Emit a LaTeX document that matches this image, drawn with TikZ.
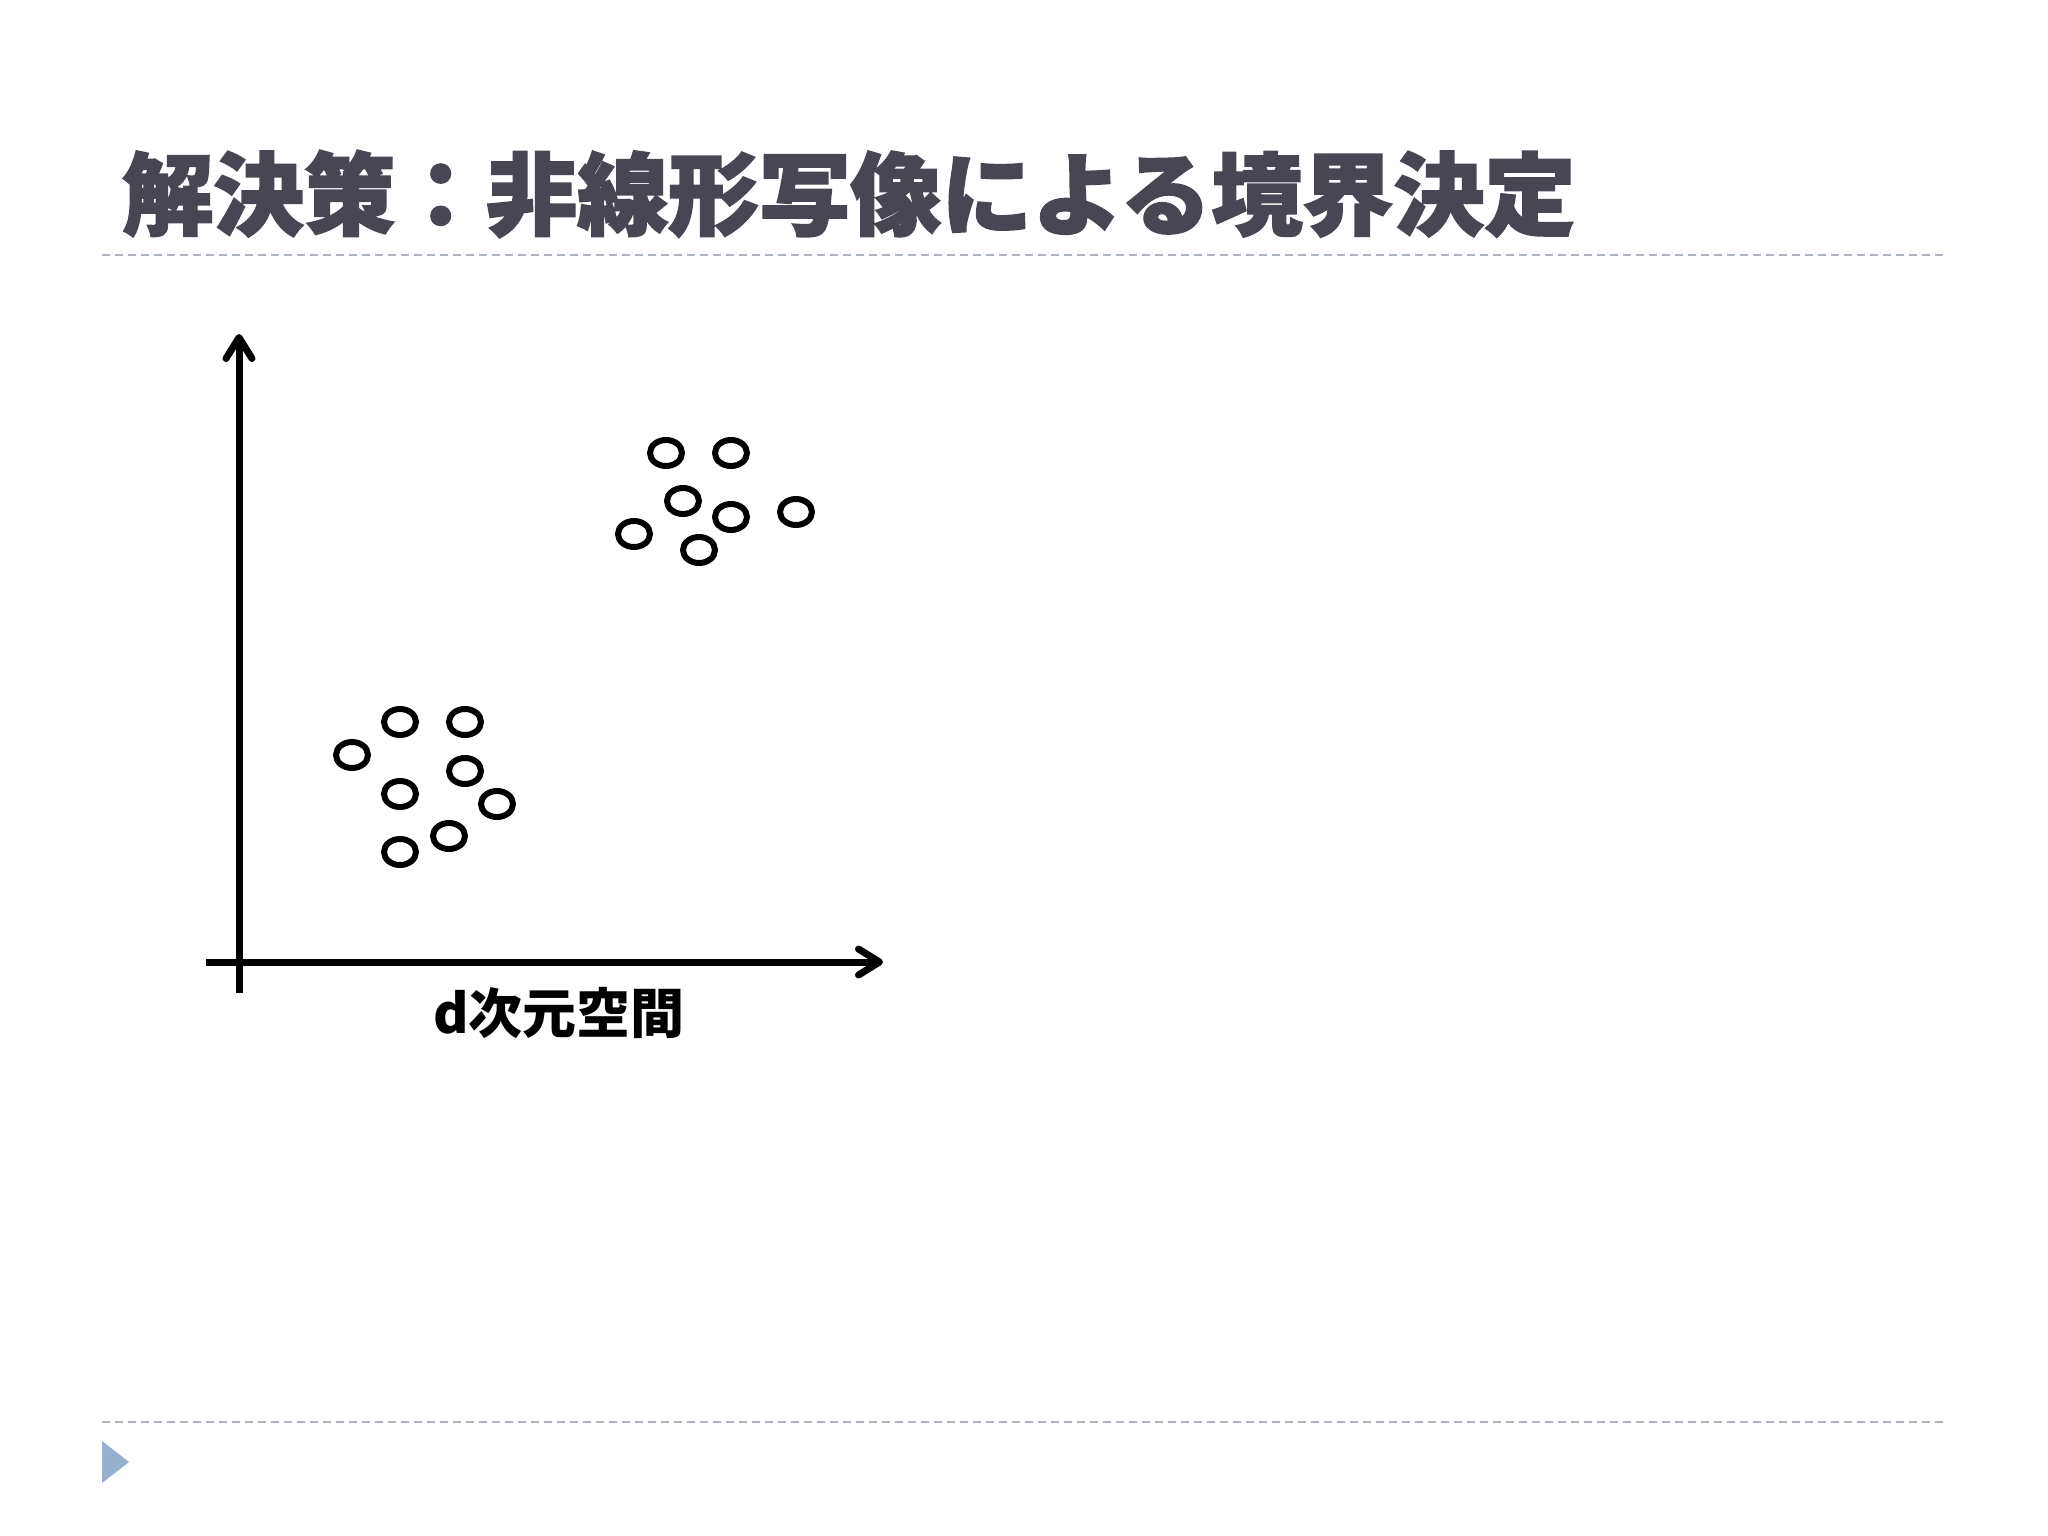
\documentclass[tikz,border=0pt]{standalone}
\usepackage{fontspec}
\usepackage{graphicx}
\usetikzlibrary{arrows.meta,shapes.geometric}
\newfontfamily\cjk{Noto Sans CJK JP}
\newfontfamily\titlecjk{Noto Sans CJK JP}[BoldFeatures={FakeBold=2}]
\definecolor{titlegray}{RGB}{71,70,82}
\definecolor{rulegray}{RGB}{172,180,192}
\definecolor{tribl}{RGB}{150,176,206}
\tikzset{
  dot/.style={ellipse, draw=black, line width=6pt, minimum width=32pt, minimum height=26pt, inner sep=0pt},
  axisline/.style={line width=7pt, draw=black, -{Straight Barb[length=21pt,width=26pt,round]}},
  divider/.style={draw=rulegray, line width=2pt, dash pattern=on 8pt off 5pt},
}
\begin{document}
\begin{tikzpicture}[x=1pt,y=-1pt]
\fill[white] (0,0) rectangle (2048,1536);
\useasboundingbox (0,0) rectangle (2048,1536);
% title
\node[anchor=west, inner sep=0pt, text=titlegray] (title) at (122,194)
  {\scalebox{0.91}[0.9]{\titlecjk\bfseries\fontsize{100pt}{100pt}\selectfont 解決策：非線形写像による境界決定}};
% dividers
\coordinate (tl) at (102,255);
\coordinate (tr) at (1947,255);
\coordinate (bl) at (102,1422);
\coordinate (br) at (1947,1422);
\draw[divider] (tl) -- (tr);
\draw[divider] (bl) -- (br);
% bullet triangle
\fill[tribl] (102,1441) -- (129,1462) -- (102,1483) -- cycle;
% axes
\coordinate (ybot) at (239,993);
\coordinate (ytop) at (239,334);
\coordinate (xleft) at (206,962);
\coordinate (xright) at (883,962);
\draw[axisline] (ybot) -- (ytop);
\draw[axisline] (xleft) -- (xright);
\node[inner sep=0pt, font=\cjk\bfseries\fontsize{54pt}{54pt}\selectfont] (xlabel) at (559,1013) {d次元空間};
% upper cluster
\node[dot] (u1) at (666,453) {};
\node[dot] (u2) at (731,453) {};
\node[dot] (u3) at (683,501) {};
\node[dot] (u4) at (731,517) {};
\node[dot] (u5) at (796,512) {};
\node[dot] (u6) at (634,534) {};
\node[dot] (u7) at (699,550) {};
% lower cluster
\node[dot] (l1) at (400,722) {};
\node[dot] (l2) at (465,722) {};
\node[dot] (l3) at (352,755) {};
\node[dot] (l4) at (465,771) {};
\node[dot] (l5) at (400,794) {};
\node[dot] (l6) at (497,804) {};
\node[dot] (l7) at (449,836) {};
\node[dot] (l8) at (400,852) {};
\end{tikzpicture}
\end{document}
